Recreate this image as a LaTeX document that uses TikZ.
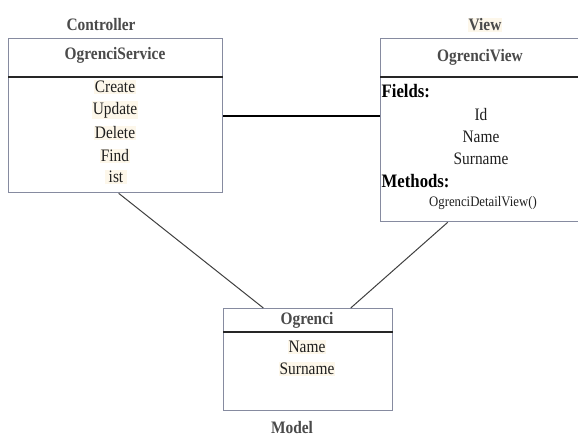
\documentclass[tikz,border=0pt]{standalone}
\usepackage{fontspec}
\setmainfont[FakeStretch=0.88]{Liberation Serif}
\usetikzlibrary{calc}
\definecolor{frame}{HTML}{868BA0}
\definecolor{cream}{HTML}{FDF7EA}
\definecolor{headgray}{HTML}{4A4A4A}
\begin{document}
\begin{tikzpicture}[x=1pt,y=-1pt,
  classbox/.style={draw=frame, line width=1.3pt, rectangle, anchor=north west, inner sep=0pt},
  divider/.style={line width=1.4pt, black!85},
  head/.style={font=\fontsize{17.5}{20}\selectfont\bfseries, text=headgray, inner sep=1pt},
  tag/.style={font=\fontsize{17.5}{20}\selectfont\bfseries, text=headgray, inner sep=1pt},
  item/.style={font=\fontsize{17.5}{20}\selectfont, text=black!88, fill=cream, inner sep=1pt},
  section/.style={font=\fontsize{19}{22}\selectfont\bfseries, text=black, anchor=west, inner sep=0.5pt},
  link/.style={line width=1pt, black!75},
  assoc/.style={line width=2pt, black}
]
\useasboundingbox (0,0) rectangle (578,438);
\fill[white] (0,0) rectangle (578,438);

% Controller class
\node[tag] (ctrllabel) at (101,25) {Controller};
\node[classbox, minimum width=214pt, minimum height=154pt] (ctrl) at (8,38) {};
\draw[divider] ($(ctrl.north west)+(0,39)$) -- ($(ctrl.north east)+(0,39)$);
\node[head] (ctrlname) at (115,55) {OgrenciService};
\node[item] (create) at (115,87) {Create};
\node[item] (update) at (115,110) {Update};
\node[item] (delete) at (115,133) {Delete};
\node[item] (find) at (115,156) {Find};
\node[item] (ist) at (116,177) {\,ist\,};

% View class
\node[tag, fill=cream] (viewlabel) at (485,25) {View};
\node[classbox, minimum width=204pt, minimum height=183pt] (view) at (380,38) {};
\draw[divider] ($(view.north west)+(0,39)$) -- ($(view.north east)+(0,39)$);
\node[head] (viewname) at (480,57) {OgrenciView};
\node[section] (fields) at (381,91) {Fields:};
\node[item, fill=none] (vid) at (481,115) {Id};
\node[item, fill=none] (vname) at (481,137) {Name};
\node[item, fill=none] (vsurname) at (481,159) {Surname};
\node[section] (methods) at (381,181) {Methods:};
\node[item, fill=none, font=\fontsize{14.5}{17}\selectfont] (detail) at (483,203) {OgrenciDetailView()};

% Model class
\node[classbox, minimum width=169pt, minimum height=102pt] (model) at (223,308) {};
\draw[divider] ($(model.north west)+(0,24)$) -- ($(model.north east)+(0,24)$);
\node[head] (modelname) at (307,320) {Ogrenci};
\node[item] (mname) at (307,347) {Name};
\node[item] (msurname) at (307,369) {Surname};
\node[tag] (modellabel) at (292,428) {Model};

% Connectors
\draw[assoc] (ctrl.east) -- (ctrl.east -| view.west);
\draw[link] ($(ctrl.south west)!0.514!(ctrl.south east)$) -- ($(model.north west)!0.237!(model.north east)$);
\draw[link] ($(view.south west)!0.33!(view.south east)$) -- ($(model.north west)!0.75!(model.north east)$);
\end{tikzpicture}
\end{document}
